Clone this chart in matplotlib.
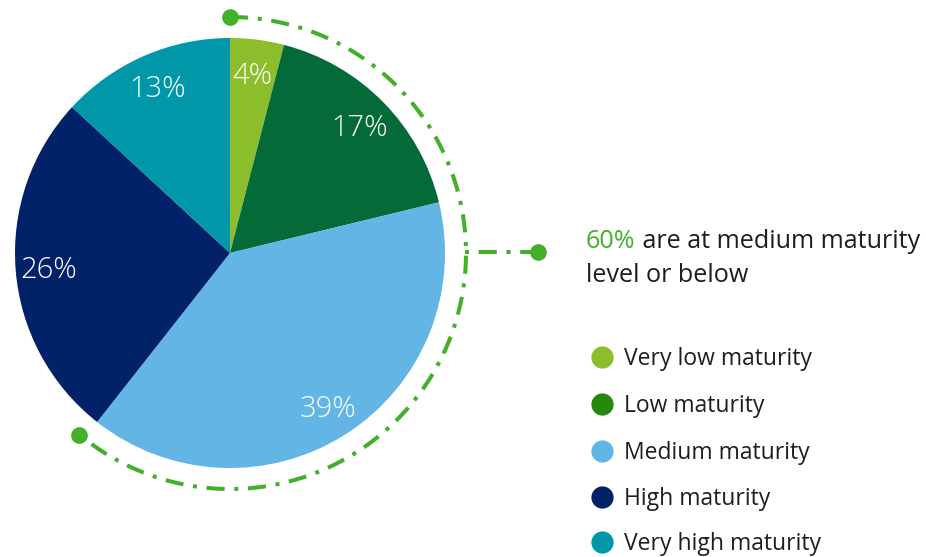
import matplotlib
matplotlib.use("Agg")
import matplotlib.pyplot as plt
import numpy as np

categories = ["Very low maturity", "Low maturity", "Medium maturity", "High maturity", "Very high maturity"]
values = [4, 17, 39, 26, 13]
slice_colors = ["#8CBE2B", "#046A38", "#62B5E5", "#012169", "#0097A9"]
legend_colors = ["#8CBE2B", "#26890D", "#62B5E5", "#012169", "#0097A9"]
highlight_value = "60%"
highlight_text = " are at medium maturity"
highlight_text2 = "level or below"
highlight_n = 3  # first three categories

W, H = 926, 557
FONT = "Open Sans"
TXT = "#1E1E1E"
GREEN = "#43B02A"

fig = plt.figure(figsize=(W / 100, H / 100), dpi=100)
ax = fig.add_axes([0, 0, 1, 1])
ax.set_xlim(0, W)
ax.set_ylim(0, H)
ax.set_aspect("equal")
ax.axis("off")

cx, cy, R = 230, H - 253, 215
total = sum(values)
wedges, texts, autotexts = ax.pie(
    values, colors=slice_colors, startangle=90, counterclock=False,
    center=(cx, cy), radius=R, autopct=lambda p: f"{p * total / 100:.0f}%",
    pctdistance=0.845, wedgeprops=dict(linewidth=0),
    textprops=dict(color="white", fontsize=21, family=FONT, fontweight="light"))
for t in autotexts:
    x, y = t.get_position()
    t.set_position((x, y - 3))
ax.set_xlim(0, W)
ax.set_ylim(0, H)

# dash-dot arc covering first three slices
frac = sum(values[:highlight_n]) / total
Ra = 236
th = np.radians(90 - np.linspace(0, 360 * frac + 1.5, 400))
dash = (0, (4.5, 2.4, 1, 2.4))
ax.plot(cx + Ra * np.cos(th), cy + Ra * np.sin(th), color=GREEN, lw=2.9,
        linestyle=dash, solid_capstyle="butt", dash_capstyle="butt")
ax.plot([cx + Ra * np.cos(th[0]), cx + Ra * np.cos(th[-1])],
        [cy + Ra * np.sin(th[0]), cy + Ra * np.sin(th[-1])],
        "o", color=GREEN, ms=12, mew=0)
# horizontal connector
x0 = cx + Ra - 1
ax.plot([x0, 538], [cy + 1, cy + 1], color=GREEN, lw=2.9, linestyle=(0, (1, 2.4, 4.5, 2.4, 1, 2.4, 4.5, 2.4)),
        dash_capstyle="butt")
ax.plot([538], [cy + 1], "o", color=GREEN, ms=12, mew=0)

# headline
hs = 18.1
t1 = ax.text(586, H - 242, highlight_value, color=GREEN, fontsize=hs, family=FONT,
             va="center", ha="left")
fig.canvas.draw()
bb = t1.get_window_extent()
ax.text(bb.x1, H - 242, highlight_text, color=TXT, fontsize=hs, family=FONT,
        va="center", ha="left")
ax.text(586, H - 275, highlight_text2, color=TXT, fontsize=hs, family=FONT,
        va="center", ha="left")

# legend
ys = [357, 404, 451, 497, 542]
for c, lab, y in zip(legend_colors, categories, ys):
    ax.plot([602], [H - y], "o", color=c, ms=16, mew=0)
    ax.text(624, H - y - 2, lab, color=TXT, fontsize=16.5, family=FONT, va="center", ha="left")

fig.savefig("out.png", dpi=100)
